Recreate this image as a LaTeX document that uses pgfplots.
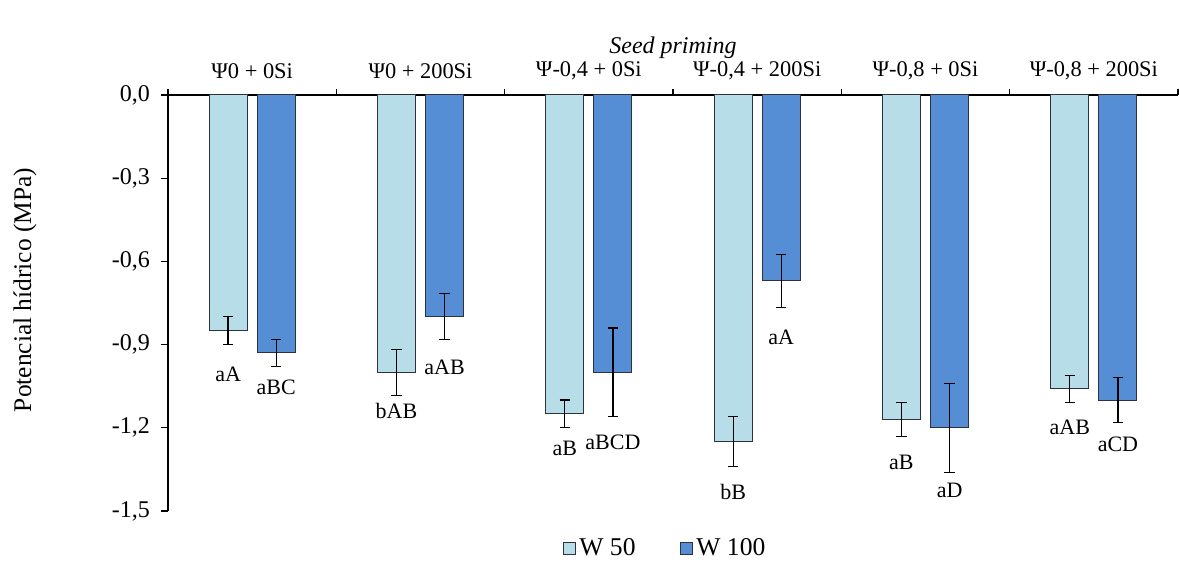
\documentclass[border=0pt]{standalone}
\usepackage{pgfplots}
\pgfplotsset{compat=1.18}
\usepackage{fontspec}
\setmainfont{Liberation Serif}
\definecolor{lightb}{RGB}{183,222,232}
\definecolor{darkb}{RGB}{85,142,213}
\definecolor{edge}{RGB}{45,50,60}
\begin{document}
\begin{tikzpicture}
\begin{axis}[
  scale only axis, width=505pt, height=208pt,
  xmin=-0.5, xmax=5.5, ymin=-1.5, ymax=0,
  axis x line*=top, axis y line*=left,
  axis line style={black, line width=0.6pt},
  tick align=outside,
  tick style={black, line width=0.6pt},
  xtick={0,...,5},
  xticklabels={{Ψ0 + 0Si},{Ψ0 + 200Si},{Ψ-0,4 + 0Si},{Ψ-0,4 + 200Si},{Ψ-0,8 + 0Si},{Ψ-0,8 + 200Si}},
  major x tick style={draw=none},
  minor xtick={-0.5,0.5,1.5,2.5,3.5,4.5,5.5},
  major tick length=3.5pt, minor tick length=3pt,
  xticklabel style={font=\fontsize{11.2}{13}\selectfont, anchor=center, yshift=8.5pt},
  ytick={0,-0.3,-0.6,-0.9,-1.2,-1.5},
  yticklabel style={font=\fontsize{12}{14}\selectfont, xshift=-2pt,
    /pgf/number format/.cd, fixed, fixed zerofill, precision=1, use comma, assume math mode=true},
  title={Seed priming},
  title style={at={(0.5,1)}, anchor=center, yshift=17.5pt, font=\itshape\fontsize{12}{14}\selectfont},
  ylabel={Potencial hídrico (MPa)},
  ylabel style={at={(0,0.5)}, anchor=center, xshift=6.5pt, yshift=71.5pt, font=\fontsize{12.7}{15}\selectfont},
  legend style={at={(0.5,0)}, anchor=center, yshift=-18.5pt, xshift=-3.5pt, draw=none, fill=none,
    legend columns=2, font=\fontsize{12.8}{15}\selectfont,
    /tikz/every even column/.append style={column sep=20pt}},
  legend image code/.code={\draw[#1, line width=0.4pt] (0pt,-3pt) rectangle (6pt,3pt);},
  clip=false,
]
\addplot[ybar, bar width=0.226, bar shift=0, fill=lightb, draw=edge, line width=0.5pt,
  error bars/.cd, y dir=both, y explicit,
  error bar style={black, line width=0.6pt},
  error mark options={rotate=90, mark size=2.6pt, black, line width=0.6pt}]
coordinates {
 (-0.143,-0.85) +- (0,0.05)
 (0.857,-1.00) +- (0,0.083)
 (1.857,-1.15) +- (0,0.05)
 (2.857,-1.25) +- (0,0.09)
 (3.857,-1.17) +- (0,0.06)
 (4.857,-1.06) +- (0,0.05)
};
\addlegendentry{W 50}
\addplot[ybar, bar width=0.226, bar shift=0, fill=darkb, draw=edge, line width=0.5pt,
  error bars/.cd, y dir=both, y explicit,
  error bar style={black, line width=0.6pt},
  error mark options={rotate=90, mark size=2.6pt, black, line width=0.6pt}]
coordinates {
 (0.143,-0.93) +- (0,0.048)
 (1.143,-0.80) +- (0,0.083)
 (2.143,-1.00) +- (0,0.16)
 (3.143,-0.67) +- (0,0.095)
 (4.143,-1.20) +- (0,0.16)
 (5.143,-1.10) +- (0,0.08)
};
\addlegendentry{W 100}
\addplot[draw=none, mark=none, forget plot, point meta=explicit symbolic,
  nodes near coords, nodes near coords style={anchor=center, font=\fontsize{11}{13}\selectfont, text=black}]
coordinates {
 (-0.143,-1.006) [aA]
 (0.143,-1.053) [aBC]
 (0.857,-1.14) [bAB]
 (1.143,-0.981) [aAB]
 (1.857,-1.273) [aB]
 (2.143,-1.251) [aBCD]
 (2.857,-1.432) [bB]
 (3.143,-0.874) [aA]
 (3.857,-1.325) [aB]
 (4.143,-1.424) [aD]
 (4.857,-1.199) [aAB]
 (5.143,-1.258) [aCD]
};
\coordinate (sw) at (rel axis cs:0,0);
\coordinate (ne) at (rel axis cs:1,1);
\end{axis}
\pgfresetboundingbox
\path ([shift={(-84pt,-25pt)}]sw) rectangle ([shift={(0.5pt,47.5pt)}]ne);
\end{tikzpicture}
\end{document}
